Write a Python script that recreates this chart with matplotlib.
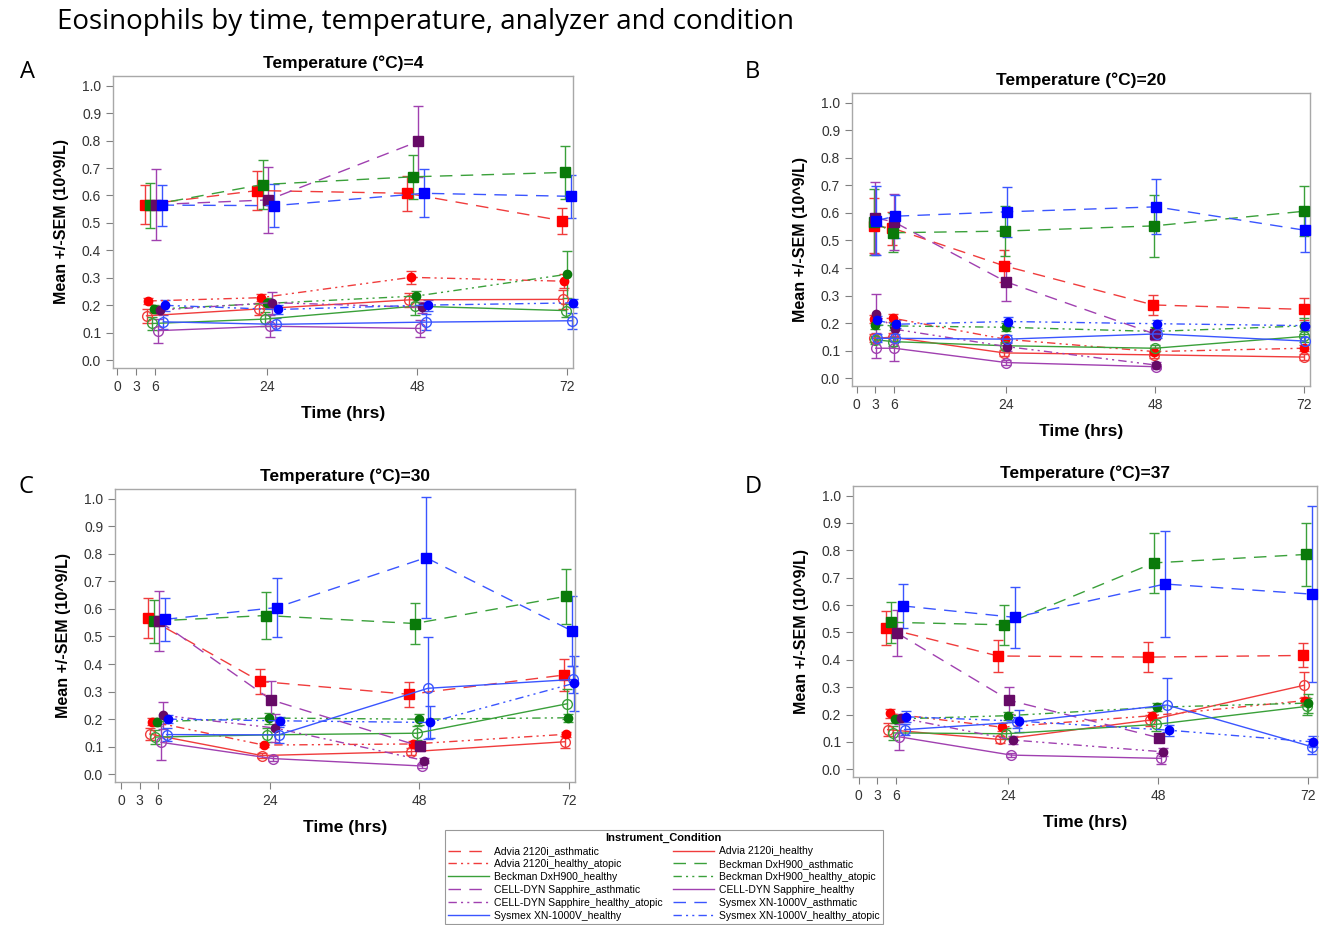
import numpy as np
import matplotlib
matplotlib.use("Agg")
import matplotlib.pyplot as plt
from matplotlib.lines import Line2D

nan = np.nan

# --- Daten ---
instruments = ["Advia 2120i", "Beckman DxH900", "CELL-DYN Sapphire", "Sysmex XN-1000V"]
conditions = ["asthmatic", "healthy", "healthy_atopic"]
temperatures = [4, 20, 30, 37]
panel_letters = ["A", "B", "C", "D"]
x_ticks = [0, 3, 6, 24, 48, 72]
y_ticks = [0.0, 0.1, 0.2, 0.3, 0.4, 0.5, 0.6, 0.7, 0.8, 0.9, 1.0]

# Zeilen: Advia, Beckman, CELL-DYN, Sysmex
times_4 = [6, 24, 48, 72]
asth_4_mean = [[0.567, 0.618, 0.608, 0.508], [0.565, 0.640, 0.668, 0.684],
               [0.567, 0.584, 0.797, nan], [0.565, 0.563, 0.608, 0.597]]
asth_4_sem = [[0.070, 0.070, 0.063, 0.047], [0.082, 0.088, 0.080, 0.097],
              [0.130, 0.120, 0.130, nan], [0.075, 0.078, 0.087, 0.078]]
healthy_4_mean = [[0.162, 0.187, 0.220, 0.222], [0.134, 0.150, 0.197, 0.181],
                  [0.108, 0.124, 0.116, nan], [0.140, 0.131, 0.139, 0.144]]
healthy_4_sem = [[0.025, 0.022, 0.025, 0.035], [0.025, 0.025, 0.033, 0.025],
                 [0.044, 0.040, 0.030, nan], [0.025, 0.022, 0.030, 0.030]]
atopic_4_mean = [[0.216, 0.228, 0.302, 0.288], [0.186, 0.207, 0.234, 0.313],
                 [0.183, 0.210, 0.193, nan], [0.200, 0.185, 0.201, 0.209]]
atopic_4_sem = [[0.010, 0.012, 0.024, 0.025], [0.015, 0.020, 0.020, 0.085],
                [0.015, 0.040, 0.020, nan], [0.020, 0.015, 0.020, 0.015]]

times_20 = [3, 6, 24, 48, 72]
asth_20_mean = [[0.553, 0.545, 0.408, 0.266, 0.250], [0.567, 0.528, 0.534, 0.553, 0.606],
                [0.582, 0.567, 0.350, 0.160, nan], [0.572, 0.588, 0.604, 0.622, 0.537]]
asth_20_sem = [[0.100, 0.060, 0.057, 0.035, 0.040], [0.120, 0.070, 0.090, 0.113, 0.090],
               [0.130, 0.100, 0.070, 0.020, nan], [0.125, 0.078, 0.090, 0.100, 0.080]]
healthy_20_mean = [[0.145, 0.149, 0.092, 0.085, 0.077], [0.140, 0.133, 0.118, 0.109, 0.152],
                   [0.109, 0.109, 0.057, 0.042, nan], [0.145, 0.145, 0.142, 0.161, 0.135]]
healthy_20_sem = [[0.015, 0.015, 0.010, 0.010, 0.010], [0.015, 0.015, 0.015, 0.012, 0.020],
                  [0.036, 0.046, 0.010, 0.010, nan], [0.015, 0.015, 0.015, 0.015, 0.015]]
atopic_20_mean = [[0.215, 0.218, 0.142, 0.097, 0.109], [0.194, 0.190, 0.185, 0.170, 0.190],
                  [0.234, 0.178, 0.115, 0.048, nan], [0.210, 0.196, 0.206, 0.198, 0.191]]
atopic_20_sem = [[0.015, 0.015, 0.015, 0.012, 0.010], [0.015, 0.015, 0.015, 0.015, 0.030],
                 [0.070, 0.030, 0.015, 0.010, nan], [0.015, 0.015, 0.015, 0.015, 0.015]]

times_30 = [6, 24, 48, 72]
asth_30_mean = [[0.567, 0.337, 0.290, 0.360], [0.556, 0.576, 0.547, 0.646],
                [0.556, 0.270, 0.101, nan], [0.562, 0.605, 0.786, 0.520]]
asth_30_sem = [[0.072, 0.044, 0.045, 0.058], [0.078, 0.085, 0.073, 0.100],
               [0.110, 0.070, 0.015, nan], [0.078, 0.106, 0.220, 0.128]]
healthy_30_mean = [[0.146, 0.068, 0.082, 0.118], [0.135, 0.143, 0.149, 0.256],
                   [0.116, 0.057, 0.030, nan], [0.144, 0.143, 0.312, 0.344]]
healthy_30_sem = [[0.021, 0.008, 0.012, 0.022], [0.025, 0.025, 0.025, 0.055],
                  [0.065, 0.010, 0.008, nan], [0.025, 0.028, 0.185, 0.050]]
atopic_30_mean = [[0.191, 0.106, 0.110, 0.145], [0.191, 0.204, 0.200, 0.205],
                  [0.214, 0.168, 0.050, nan], [0.200, 0.194, 0.188, 0.330]]
atopic_30_sem = [[0.012, 0.008, 0.010, 0.010], [0.015, 0.020, 0.020, 0.015],
                 [0.048, 0.050, 0.010, nan], [0.015, 0.015, 0.058, 0.100]]

times_37 = [6, 24, 48, 72]
asth_37_mean = [[0.516, 0.414, 0.410, 0.416], [0.537, 0.528, 0.754, 0.785],
                [0.498, 0.252, 0.115, nan], [0.597, 0.555, 0.677, 0.640]]
asth_37_sem = [[0.062, 0.057, 0.055, 0.044], [0.074, 0.074, 0.110, 0.116],
               [0.085, 0.050, 0.015, nan], [0.081, 0.112, 0.195, 0.322]]
healthy_37_mean = [[0.145, 0.109, 0.180, 0.307], [0.133, 0.130, 0.164, 0.230],
                   [0.119, 0.052, 0.040, nan], [0.145, 0.172, 0.235, 0.082]]
healthy_37_sem = [[0.025, 0.012, 0.020, 0.048], [0.025, 0.020, 0.025, 0.030],
                  [0.047, 0.008, 0.020, nan], [0.020, 0.020, 0.098, 0.027]]
atopic_37_mean = [[0.204, 0.154, 0.196, 0.251], [0.184, 0.196, 0.227, 0.242],
                  [0.188, 0.107, 0.064, nan], [0.192, 0.176, 0.143, 0.100]]
atopic_37_sem = [[0.015, 0.015, 0.015, 0.015], [0.015, 0.015, 0.015, 0.035],
                 [0.015, 0.015, 0.015, nan], [0.020, 0.040, 0.020, 0.020]]

panels = [
    (times_4, [asth_4_mean, healthy_4_mean, atopic_4_mean], [asth_4_sem, healthy_4_sem, atopic_4_sem]),
    (times_20, [asth_20_mean, healthy_20_mean, atopic_20_mean], [asth_20_sem, healthy_20_sem, atopic_20_sem]),
    (times_30, [asth_30_mean, healthy_30_mean, atopic_30_mean], [asth_30_sem, healthy_30_sem, atopic_30_sem]),
    (times_37, [asth_37_mean, healthy_37_mean, atopic_37_mean], [asth_37_sem, healthy_37_sem, atopic_37_sem]),
]

# --- Stil ---
line_colors = ["#F03C3C", "#3AA03A", "#A040B0", "#3A55FF"]
marker_colors = ["#FF0000", "#0A7A0A", "#660A66", "#0000FF"]
line_styles = [(0, (9, 6)), "-", (0, (6, 3, 1.5, 3, 1.5, 3))]

# Achsenpositionen in Pixeln (links, unten, rechts, oben) und x-Grenzen
boxes = [(113, 368, 573, 76), (852, 386, 1310, 93), (115, 782, 575, 489), (853, 777, 1317, 486)]
xlims = [(-0.72, 72.9), (-0.74, 72.9), (-0.95, 73.0), (-0.9, 73.4)]
W, H = 1330, 925

plt.rcParams["font.family"] = ["Liberation Sans", "DejaVu Sans"]
fig = plt.figure(figsize=(W / 100, H / 100), dpi=100)

fig.text(57 / W, 1 - 22 / H, "Eosinophils by time, temperature, analyzer and condition",
         fontsize=20, family="Open Sans", va="center", ha="left")
letter_pos = [(20, 72), (745, 72), (18, 487), (745, 487)]

offsets = np.linspace(-1.65, 1.65, 12)

for p, (times, means, sems) in enumerate(panels):
    l, b, r, t = boxes[p]
    ax = fig.add_axes([l / W, 1 - b / H, (r - l) / W, (b - t) / H])
    fig.text(letter_pos[p][0] / W, 1 - letter_pos[p][1] / H, panel_letters[p],
             fontsize=17, family="Open Sans", va="center", ha="left")
    times = np.array(times, dtype=float)
    scale = np.min(np.diff(times)) / 18.0
    for i in range(4):
        for j in range(3):
            g = i * 3 + j
            off = np.full(len(times), offsets[g] * scale)
            off[times == 72] *= 0.5
            x = times + off
            y = np.array(means[j][i], dtype=float)
            e = np.array(sems[j][i], dtype=float)
            ax.errorbar(x, y, yerr=e, fmt="none", ecolor=line_colors[i],
                        elinewidth=1.0, capsize=3.5, capthick=1.0, clip_on=False, zorder=2)
            if j == 0:
                mk = dict(marker="s", ms=6.5, mfc=marker_colors[i], mec=marker_colors[i])
            elif j == 1:
                mk = dict(marker="o", ms=7, mfc="none", mec=line_colors[i], mew=1.0)
            else:
                mk = dict(marker="o", ms=6, mfc=marker_colors[i], mec=marker_colors[i])
            ax.plot(x, y, ls=line_styles[j], color=line_colors[i], lw=1.0,
                    clip_on=False, zorder=3, **mk)

    ax.set_xlim(*xlims[p])
    ax.set_ylim(-0.028, 1.035)
    ax.set_xticks(x_ticks)
    ax.set_yticks(y_ticks)
    ax.set_yticklabels([f"{v:.1f}" for v in y_ticks])
    for s in ax.spines.values():
        s.set_color("#A8A8A8")
        s.set_linewidth(1.0)
    ax.tick_params(direction="out", length=5, width=0.8, color="#808080",
                   labelsize=10, labelcolor="#333333")
    ax.set_title(f"Temperature (\u00b0C)={temperatures[p]}", fontsize=12.5,
                 fontweight="bold", pad=6)
    ax.set_xlabel("Time (hrs)", fontsize=12.5, fontweight="bold", labelpad=9)
    ax.set_ylabel("Mean +/-SEM (10^9/L)", fontsize=11.5, fontweight="bold", labelpad=9)

# --- Legende (zeilenweise wie im Original) ---
handles = []
labels = []
for i in range(4):
    for j in range(3):
        handles.append(Line2D([], [], color=line_colors[i], ls=line_styles[j], lw=1.0))
        labels.append(f"{instruments[i]}_{conditions[j]}")
order = list(range(0, 12, 2)) + list(range(1, 12, 2))
leg = fig.legend([handles[k] for k in order], [labels[k] for k in order], ncol=2,
                 loc="upper left", bbox_to_anchor=(445 / W, 1 - 830 / H),
                 bbox_transform=fig.transFigure, fontsize=7.5, title="Instrument_Condition",
                 title_fontproperties={"weight": "bold", "size": 8}, fancybox=False,
                 edgecolor="#808080", handlelength=3.9, columnspacing=1.0,
                 labelspacing=0.28, borderaxespad=0, borderpad=0.3, handletextpad=0.5)
leg.get_frame().set_linewidth(0.8)

fig.savefig("out.png", dpi=100)
